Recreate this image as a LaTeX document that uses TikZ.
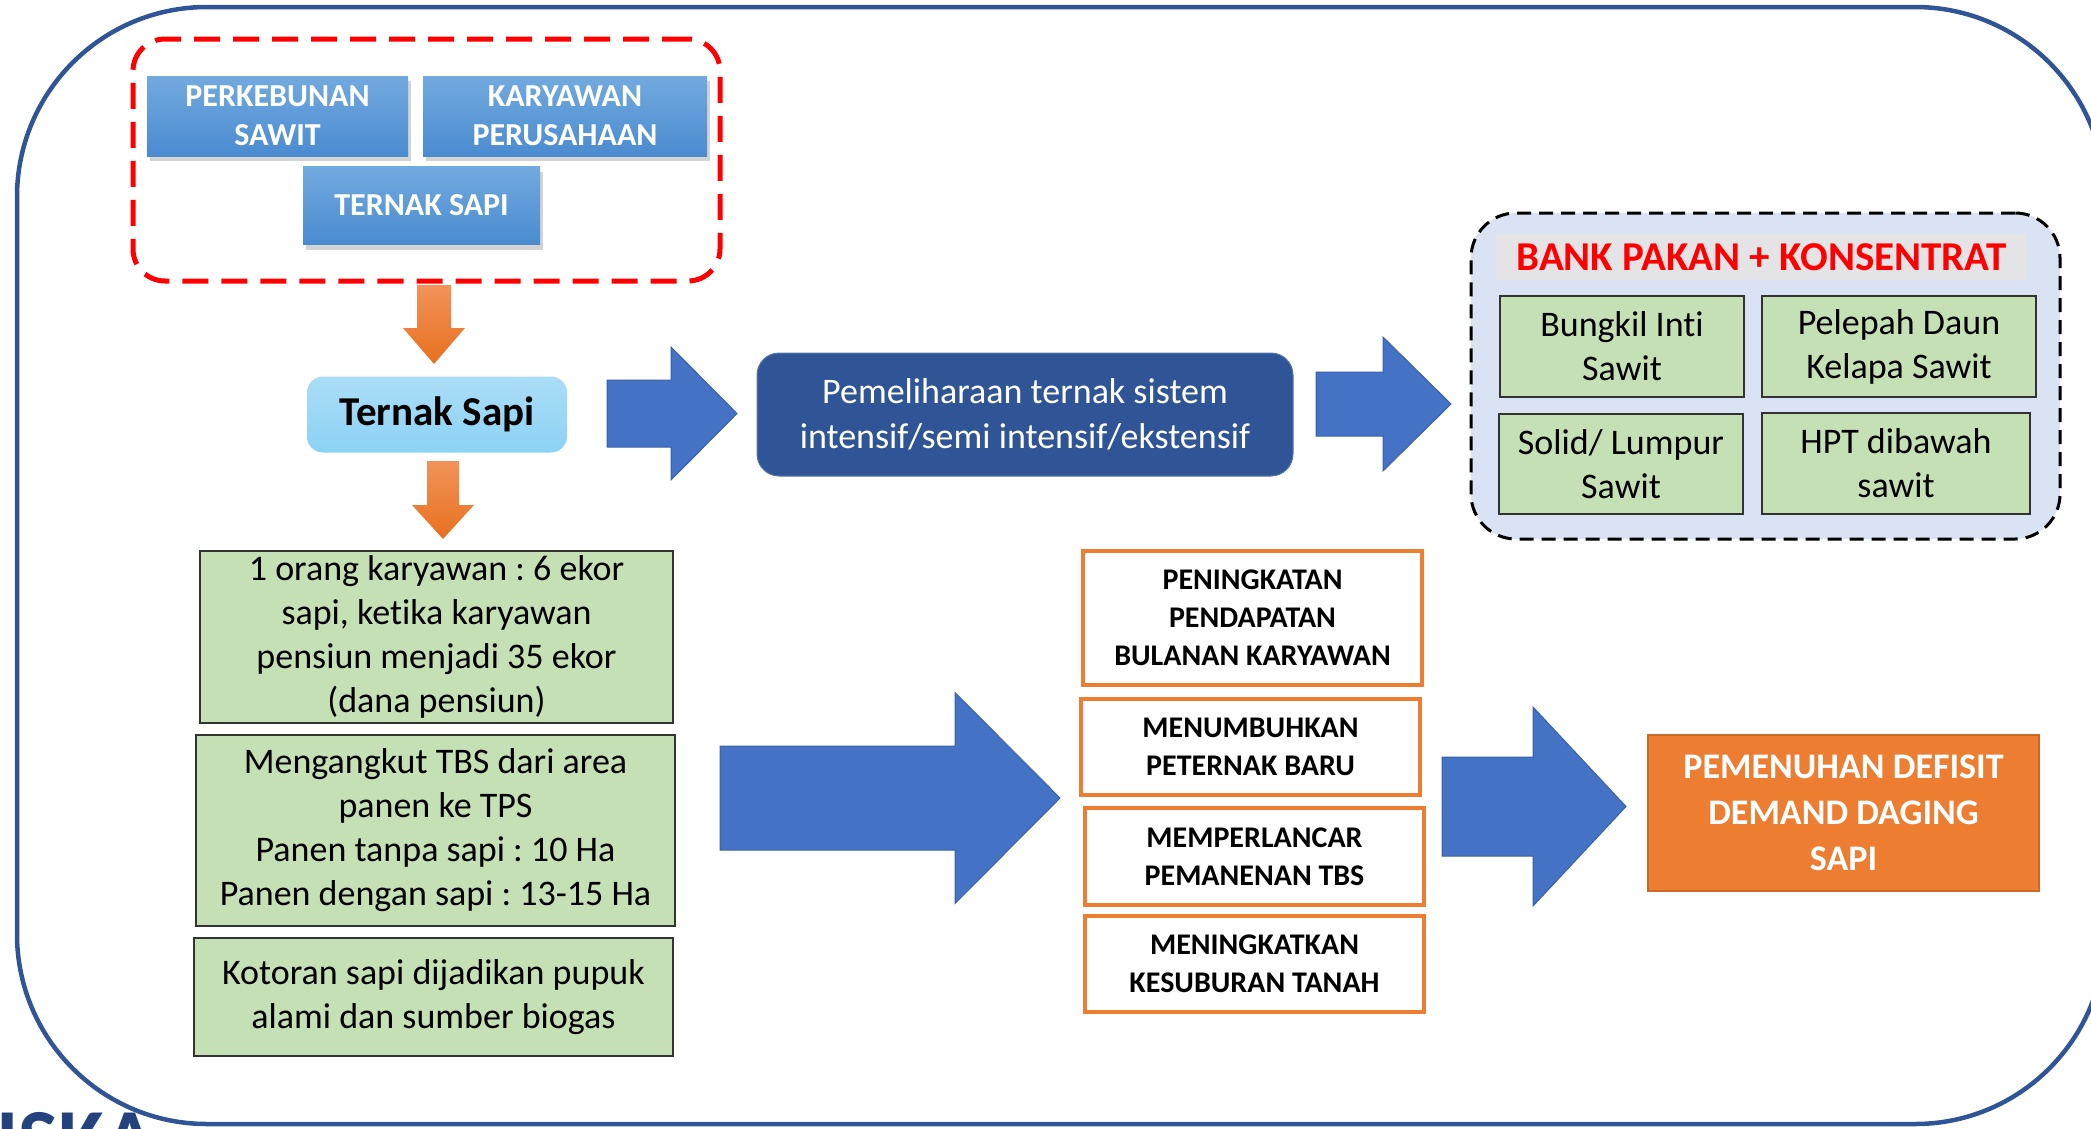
\documentclass[tikz,border=0pt]{standalone}
\usepackage{fontspec}
\setmainfont{Carlito}[Ligatures={NoCommon}]
\usetikzlibrary{shadows}
\frenchspacing
\definecolor{frameblue}{HTML}{2F5597}
\definecolor{arrowblue}{HTML}{4472C4}
\definecolor{darkbox}{HTML}{2F5597}
\definecolor{greenfill}{HTML}{C5E0B4}
\definecolor{orangeline}{HTML}{ED7D31}
\definecolor{bankfill}{HTML}{DAE3F3}
\definecolor{bandfill}{HTML}{E4E4E6}
\definecolor{tblueA}{HTML}{72AADF}
\definecolor{tblueB}{HTML}{4A8BD0}
\definecolor{lblueA}{HTML}{ABDDF6}
\definecolor{lblueB}{HTML}{8CD2F5}
\definecolor{orA}{HTML}{F19359}
\definecolor{orB}{HTML}{E8701F}
\definecolor{logoblue}{HTML}{24427E}
\newcommand\BArrowRight[7]{%
  \path[#1] (#2,#5-#6) -- (#3,#5-#6) -- (#3,#5-#7) -- (#4,#5) -- (#3,#5+#7) -- (#3,#5+#6) -- (#2,#5+#6) -- cycle;}
\newcommand\BArrowDown[7]{%
  \path[#1] (#5-#6,#2) -- (#5+#6,#2) -- (#5+#6,#3) -- (#5+#7,#3) -- (#5,#4) -- (#5-#7,#3) -- (#5-#6,#3) -- cycle;}
\tikzset{
  topbox/.style={rectangle, inner sep=0pt, top color=tblueA, bottom color=tblueB, text=white,
    font=\bfseries\fontsize{32}{39}\selectfont, align=center,
    drop shadow={shadow xshift=3pt, shadow yshift=-5pt, opacity=0.35}},
  greenbox/.style={rectangle, draw=black!80, line width=2.2pt, fill=greenfill, inner sep=0pt,
    align=center, font=\fontsize{36}{44}\selectfont},
  bankitem/.style={greenbox},
  orbox/.style={rectangle, draw=orangeline, line width=4pt, fill=white, inner sep=0pt,
    align=center, font=\bfseries\fontsize{30}{38}\selectfont},
  bluearrow/.style={fill=arrowblue, draw=arrowblue!85!black, line width=1pt},
  orangearrow/.style={top color=orA, bottom color=orB},
}
\begin{document}
\begin{tikzpicture}[x=1pt,y=-1pt]
\useasboundingbox (0,0) rectangle (2091,1128);
\begin{scope}
\clip (0,0) rectangle (2091,1128);
% logo fragment
\node[anchor=north west, inner sep=0pt, text=logoblue, font=\bfseries\fontsize{84}{84}\selectfont] (logo) at (-4,1112) {ISKA};
% outer frame
\draw[frameblue, line width=4.5pt, rounded corners=190pt] (17,7) rectangle (2105,1124);

% red dashed group
\node[draw=red, line width=5pt, dash pattern=on 26pt off 13pt, rounded corners=32pt,
  minimum width=587pt, minimum height=242pt, inner sep=0pt] (grp) at (426.5,160) {};
\node[topbox, minimum width=261pt, minimum height=80pt] (kebun) at (277.5,116) {PERKEBUNAN\\SAWIT};
\node[topbox, minimum width=284pt, minimum height=80pt] (karyawan) at (565,116) {KARYAWAN\\PERUSAHAAN};
\node[topbox, minimum width=237pt, minimum height=78pt] (ternaktop) at (421.5,205.5) {TERNAK SAPI};

% orange arrow 1
\BArrowDown{orangearrow}{285}{328}{364}{434}{17}{31}
% Ternak Sapi
\node[rectangle, rounded corners=16pt, top color=lblueA, bottom color=lblueB, inner sep=0pt,
  minimum width=260pt, minimum height=76pt, font=\bfseries\fontsize{41}{48}\selectfont] (ternak) at (437,414.5) {Ternak Sapi};
% orange arrow 2
\BArrowDown{orangearrow}{461}{505}{539}{443}{16}{31}

% blue arrow 1
\BArrowRight{bluearrow}{607}{671}{737}{413.5}{33.5}{66.5}
% Pemeliharaan
\node[rectangle, rounded corners=22pt, fill=darkbox, draw=darkbox!80!white, line width=1pt, text=white, inner sep=0pt,
  minimum width=536pt, minimum height=123pt, align=center, font=\fontsize{36}{45}\selectfont] (pelihara) at (1025,414.5)
  {Pemeliharaan ternak sistem\\intensif/semi intensif/ekstensif};
% blue arrow 2
\BArrowRight{bluearrow}{1316}{1383}{1451}{404}{32}{67}

% bank pakan
\node[draw=black, line width=3pt, dash pattern=on 14pt off 8pt, fill=bankfill, rounded corners=45pt,
  minimum width=589pt, minimum height=326pt, inner sep=0pt] (bank) at (1765.5,376) {};
\node[fill=bandfill, minimum width=531pt, minimum height=46pt, inner sep=0pt, text=red,
  font=\bfseries\fontsize{41}{48}\selectfont] (band) at (1761.5,257) {BANK PAKAN + KONSENTRAT};
\node[bankitem, minimum width=244pt, minimum height=101pt] (bungkil) at (1622,346.5) {Bungkil Inti\\Sawit};
\node[bankitem, minimum width=274pt, minimum height=101pt] (pelepah) at (1899,346.5) {Pelepah Daun\\Kelapa Sawit};
\node[bankitem, minimum width=244pt, minimum height=100pt] (solid) at (1621,464) {Solid/ Lumpur\\Sawit};
\node[bankitem, minimum width=268pt, minimum height=101pt] (hpt) at (1896,463.5) {HPT dibawah\\sawit};

% green boxes
\node[greenbox, minimum width=473pt, minimum height=172pt] (g1) at (436.5,637)
  {1 orang karyawan : 6 ekor\\sapi, ketika karyawan\\pensiun menjadi 35 ekor\\(dana pensiun)};
\node[greenbox, minimum width=479pt, minimum height=191pt] (g2) at (435.5,830.5)
  {Mengangkut TBS dari area\\panen ke TPS\\Panen tanpa sapi : 10 Ha\\Panen dengan sapi : 13-15 Ha};
\node[greenbox, minimum width=479pt, minimum height=118pt] (g3) at (433.5,997)
  {Kotoran sapi dijadikan pupuk\\alami dan sumber biogas};

% big blue arrow 3
\BArrowRight{bluearrow}{720}{955}{1060}{798}{52}{105.5}

% orange boxes
\node[orbox, minimum width=339pt, minimum height=134pt] (o1) at (1252.5,618) {PENINGKATAN\\PENDAPATAN\\BULANAN KARYAWAN};
\node[orbox, minimum width=339pt, minimum height=96pt] (o2) at (1250.5,747) {MENUMBUHKAN\\PETERNAK BARU};
\node[orbox, minimum width=339pt, minimum height=97pt] (o3) at (1254.5,856.5) {MEMPERLANCAR\\PEMANENAN TBS};
\node[orbox, minimum width=339pt, minimum height=96pt] (o4) at (1254.5,964) {MENINGKATKAN\\KESUBURAN TANAH};

% blue arrow 4
\BArrowRight{bluearrow}{1442}{1533}{1626}{806.5}{49.5}{99.5}

% result
\node[rectangle, fill=orangeline, draw=orangeline!85!black, line width=1.5pt, text=white, inner sep=0pt,
  minimum width=391pt, minimum height=156pt, align=center, font=\bfseries\fontsize{36}{46}\selectfont] (result) at (1843.5,813)
  {PEMENUHAN DEFISIT\\DEMAND DAGING\\SAPI};
\end{scope}
\end{tikzpicture}
\end{document}
